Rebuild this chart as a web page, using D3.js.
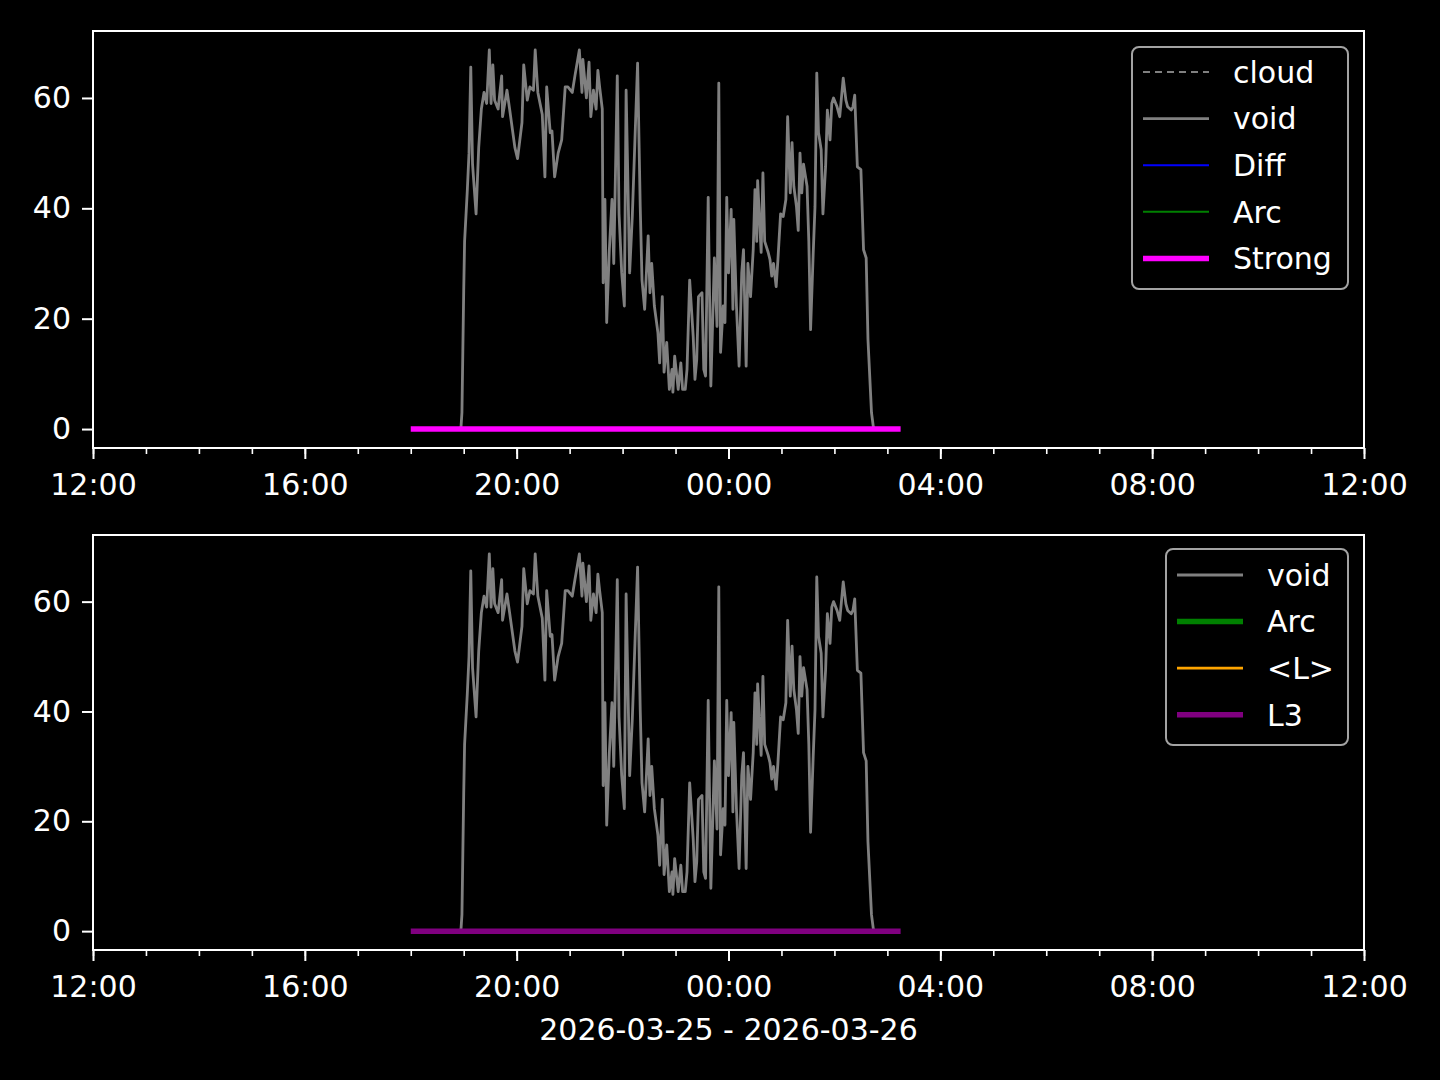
<!DOCTYPE html>
<html>
<head>
<meta charset="utf-8">
<script src="https://cdn.jsdelivr.net/npm/d3@7"></script>
<style>
	html, body { margin: 0; padding: 0; background: #000; }
	svg text { font-family: "DejaVu Sans", sans-serif; fill: #fff; }
</style>
</head>
<body>
<div id="chart"></div>
<script>
// ********** TWO PANEL TIME SERIES **********

// Chart data - minutes after 2026-03-25 18:00, and values
const voidMinutes = [
	56, 57, 58, 59, 60, 61, 64, 66, 68, 70, 74, 77, 80, 83, 86, 89, 91, 93, 95, 99,
	103, 104, 109, 112, 118, 121, 126, 128, 132, 135, 139, 141, 144, 149, 152, 154, 158, 160, 163, 167,
	171, 175, 178, 183, 186, 191, 194, 195, 199, 202, 204, 207, 210, 212, 214, 217, 218, 220, 222, 225,
	228, 230, 234, 236, 239, 242, 244, 246, 248, 251, 254, 257, 260, 262, 265, 269, 271, 273, 276, 280,
	282, 285, 287, 290, 293, 296, 297, 299, 303, 306, 308, 311, 313, 316, 320, 322, 324, 326, 330, 332,
	334, 337, 340, 342, 344, 347, 349, 351, 354, 356, 358, 360, 363, 365, 366, 369, 372, 375, 377, 380,
	382, 385, 388, 390, 392, 393, 397, 399, 401, 405, 407, 409, 411, 414, 416, 419, 422, 425, 427, 430,
	432, 434, 437, 439, 441, 443, 445, 449, 451, 453, 456, 458, 460, 462, 465, 467, 470, 472, 475, 477,
	479, 483, 486, 490, 493, 495, 499, 501, 503, 506, 510, 513, 516, 518, 522, 524, 525
];
const voidValues = [
	0, 0.5, 3, 14, 25, 34, 43, 50, 65.6, 48, 39, 51, 58, 61, 59, 68.7, 59, 66, 59.6, 58,
	64, 56.6, 61.4, 58, 51, 49, 55.5, 66, 59.6, 62, 61.4, 68.7, 61, 57, 45.7, 62, 53.7, 54, 45.7, 50,
	52.4, 62, 62, 61, 64, 68.7, 61, 67, 60, 66.5, 56.6, 61.4, 58, 65, 62, 58, 26.5, 41.6, 19.3, 32.5,
	41.6, 30, 64, 39, 28.3, 22.3, 61.4, 45, 28.3, 38.5, 52.4, 66.3, 40.3, 27, 21.7, 35, 24.7, 30, 22.3, 17.5,
	12, 24, 10.3, 15.7, 7.2, 10.8, 6.7, 13.2, 7.2, 12, 7.2, 7.2, 10.8, 27, 16.8, 9, 12.6, 24, 24.7, 10.8,
	9.6, 42, 7.8, 19.3, 31, 18.6, 62.7, 13.9, 22.3, 19.3, 42, 28.3, 39.8, 21.7, 38, 22.3, 11.4, 28.3, 32.5, 11.4,
	30, 24, 32.5, 43.4, 34, 45, 32, 46.4, 34, 32, 30.7, 27.7, 30, 25.8, 30.7, 39, 38.5, 41.6, 56.6, 42.8,
	51.9, 44, 40.3, 36, 50, 42.8, 48, 44, 34, 18, 32, 40.3, 64.5, 53.7, 50.6, 39, 47.5, 57.8, 52.4, 59,
	60, 58.4, 56.6, 63.6, 59.6, 58.4, 57.8, 58.4, 60.5, 47.5, 47, 32.5, 31, 16.3, 3, 0.5, 0
];
// Flat series at zero (Strong / L3), 18:00 to 03:15
const flatMinutes = [0, 555];
const flatValues = [0, 0];

// Axis tick and label text
const xStart = new Date(2026, 2, 25, 12, 0);
const xEnd = new Date(2026, 2, 26, 12, 0);
const yTicks = [0, 20, 40, 60];
const xLabel = '2026-03-25 - 2026-03-26';

// Series names for each legend
const topLegendNames = ['cloud', 'void', 'Diff', 'Arc', 'Strong'];
const bottomLegendNames = ['void', 'Arc2', '<L>', 'L3'];

// Styles per series name
const styles = {
	'cloud': { color: '#808080', width: 2, dash: '7,5' },
	'void': { color: '#808080', width: 2.8 },
	'Diff': { color: '#0000ff', width: 2 },
	'Arc': { color: '#008000', width: 2 },
	'Strong': { color: '#ff00ff', width: 5.5 },
	'Arc2': { color: '#008000', width: 5.5 },
	'<L>': { color: '#ffa500', width: 2.8 },
	'L3': { color: '#800080', width: 5.5 }
};

const width = 1440, height = 1080;
const fontSize = 30;
const base = new Date(2026, 2, 25, 18, 0);

const toDate = (m) => new Date(base.getTime() + m * 60000);

// Zip minutes and values into point objects
const genSeries = (minutes, values) => minutes.map((m, i) => ({ t: toDate(m), v: values[i] }));

const voidData = genSeries(voidMinutes, voidValues);
const flatData = genSeries(flatMinutes, flatValues);

const svg = d3.select('#chart')
	.append('svg')
	.attr('width', width)
	.attr('height', height)
	.style('background', '#000');

const x = d3.scaleTime()
	.domain([xStart, xEnd])
	.range([93, 1364]);

// matplotlib style 5% padding on the y range
const yExtent = d3.extent(voidValues.concat(flatValues));
const pad = (yExtent[1] - yExtent[0]) * 0.05;

const renderLegend = (names, box) => {
	const legend = svg.append('g')
		.attr('class', 'legendGroup')
		.attr('transform', `translate(${box.x}, ${box.y})`);

	legend.append('rect')
		.attr('width', box.w)
		.attr('height', box.h)
		.attr('rx', 7)
		.attr('fill', '#000')
		.attr('stroke', '#a3a3a3')
		.attr('stroke-width', 2);

	const rows = legend.selectAll('g.row')
		.data(names)
		.enter()
		.append('g')
		.attr('class', 'row')
		.attr('transform', (d, i) => `translate(0, ${box.first + i * 46.6})`);

	rows.append('line')
		.attr('x1', 11)
		.attr('x2', 77)
		.attr('stroke', d => styles[d].color)
		.attr('stroke-width', d => styles[d].width)
		.attr('stroke-dasharray', d => styles[d].dash || null);

	rows.append('text')
		.attr('x', 101)
		.attr('dy', '0.36em')
		.style('font-size', fontSize + 'px')
		.text(d => d === 'Arc2' ? 'Arc' : d);
};

const renderPanel = (top, bottom, flatStyle, legendNames, legendBox) => {
	const y = d3.scaleLinear()
		.domain([yExtent[0] - pad, yExtent[1] + pad])
		.range([bottom, top]);

	const g = svg.append('g').attr('class', 'panel');

	const line = d3.line()
		.x(d => x(d.t))
		.y(d => y(d.v));

	g.append('path')
		.datum(voidData)
		.attr('fill', 'none')
		.attr('stroke', styles['void'].color)
		.attr('stroke-width', styles['void'].width)
		.attr('stroke-linejoin', 'round')
		.attr('d', line);

	g.append('path')
		.datum(flatData)
		.attr('fill', 'none')
		.attr('stroke', flatStyle.color)
		.attr('stroke-width', flatStyle.width)
		.attr('d', line);

	// Minor x ticks, every hour
	g.append('g')
		.attr('transform', `translate(0, ${bottom})`)
		.call(d3.axisBottom(x).ticks(d3.timeHour.every(1)).tickSize(6).tickSizeOuter(0).tickFormat(''))
		.call(a => a.select('.domain').remove())
		.call(a => a.selectAll('line').attr('stroke', '#fff').attr('stroke-width', 1.6));

	// Major x ticks, every 4 hours
	g.append('g')
		.attr('transform', `translate(0, ${bottom})`)
		.call(d3.axisBottom(x).ticks(d3.timeHour.every(4)).tickSize(11).tickPadding(15)
			.tickSizeOuter(0).tickFormat(d3.timeFormat('%H:%M')))
		.call(a => a.select('.domain').remove())
		.call(a => a.selectAll('line').attr('stroke', '#fff').attr('stroke-width', 2))
		.call(a => a.selectAll('text').attr('fill', '#fff').style('font-size', fontSize + 'px'));

	g.append('g')
		.attr('transform', `translate(93, 0)`)
		.call(d3.axisLeft(y).tickValues(yTicks).tickSize(11).tickPadding(11).tickSizeOuter(0))
		.call(a => a.select('.domain').remove())
		.call(a => a.selectAll('line').attr('stroke', '#fff').attr('stroke-width', 2))
		.call(a => a.selectAll('text').attr('fill', '#fff').style('font-size', fontSize + 'px'));

	// Spines
	g.append('rect')
		.attr('x', 93)
		.attr('y', top)
		.attr('width', 1364 - 93)
		.attr('height', bottom - top)
		.attr('fill', 'none')
		.attr('stroke', '#fff')
		.attr('stroke-width', 2);

	renderLegend(legendNames, legendBox);
};

renderPanel(31, 448, styles['Strong'], topLegendNames, { x: 1132, y: 47, w: 216, h: 242, first: 25 });
renderPanel(535, 950, styles['L3'], bottomLegendNames, { x: 1166, y: 549, w: 182, h: 196, first: 26 });

svg.append('text')
	.attr('x', (93 + 1364) / 2)
	.attr('y', 1040)
	.attr('text-anchor', 'middle')
	.style('font-size', fontSize + 'px')
	.text(xLabel);
</script>
</body>
</html>
